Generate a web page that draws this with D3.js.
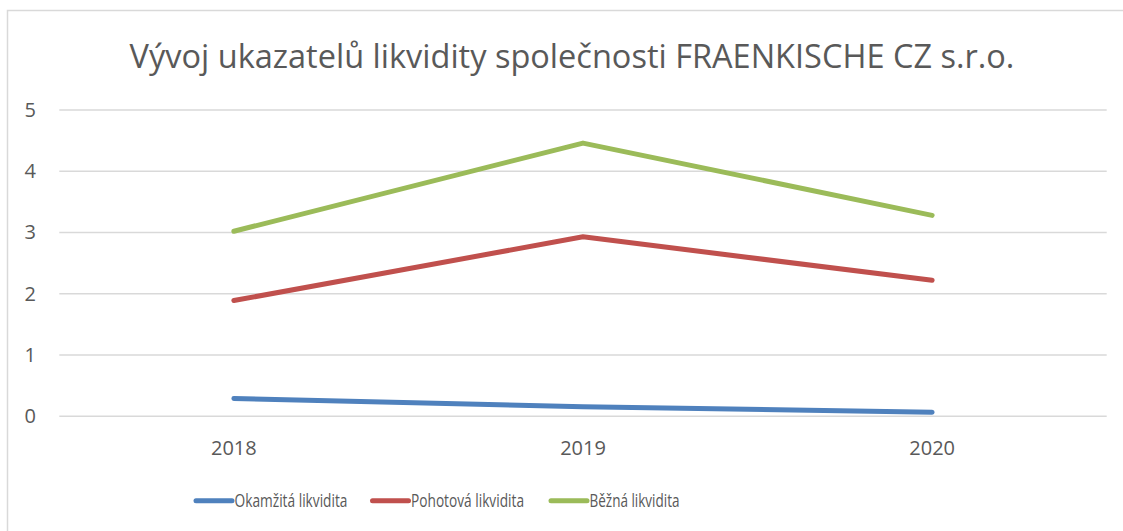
<!DOCTYPE html>
<html>
<head>
<meta charset="utf-8">
<script src="https://cdn.jsdelivr.net/npm/d3@7"></script>
<style>
  html, body { margin: 0; padding: 0; background: #fff; }
  svg { display: block; }
  text { font-family: "Open Sans", "Liberation Sans", sans-serif; fill: #595959; }
</style>
</head>
<body>
<svg id="chart" width="1123" height="531"></svg>
<script>
const title = "Vývoj ukazatelů likvidity společnosti FRAENKISCHE CZ s.r.o.";
const categories = ["2018", "2019", "2020"];
const seriesNames = ["Okamžitá likvidita", "Pohotová likvidita", "Běžná likvidita"];
const okamzita = [0.29, 0.157, 0.065];
const pohotova = [1.89, 2.93, 2.22];
const bezna = [3.02, 4.46, 3.28];
const yTicks = [0, 1, 2, 3, 4, 5];
const colors = ["#4F81BD", "#C0504D", "#9BBB59"];

const series = [okamzita, pohotova, bezna];

const svg = d3.select("#chart");
const plot = { left: 59.3, right: 1106.7, top: 110, bottom: 416.3 };

// outer chart border
svg.append("rect")
  .attr("x", 7.5).attr("y", 10.5)
  .attr("width", 1140).attr("height", 560)
  .attr("fill", "#fff").attr("stroke", "#d9d9d9").attr("stroke-width", 1.5);

const x = d3.scaleBand().domain(categories).range([plot.left, plot.right]).padding(0);
const y = d3.scaleLinear().domain([0, 5]).range([plot.bottom, plot.top]);

// gridlines
svg.append("g")
  .selectAll("line")
  .data(yTicks)
  .join("line")
  .attr("x1", plot.left).attr("x2", plot.right)
  .attr("y1", d => y(d)).attr("y2", d => y(d))
  .attr("stroke", "#d9d9d9").attr("stroke-width", 1.5);

// y axis labels
const yAxis = d3.axisLeft(y).tickValues(yTicks).tickSize(0).tickPadding(0).tickFormat(d3.format("d"));
const gy = svg.append("g").attr("transform", "translate(36,0)").call(yAxis);
gy.select(".domain").remove();
gy.selectAll("text").attr("font-size", 20).style("font-family", "'Open Sans', sans-serif").attr("fill", "#595959");

// x axis labels
const xAxis = d3.axisBottom(x).tickSize(0).tickPadding(0);
const gx = svg.append("g").attr("transform", `translate(0,${plot.bottom + 24})`).call(xAxis);
gx.select(".domain").remove();
gx.selectAll("text").attr("font-size", 20).style("font-family", "'Open Sans', sans-serif").attr("fill", "#595959");

// lines
const line = d3.line()
  .x((d, i) => x(categories[i]) + x.bandwidth() / 2)
  .y(d => y(d));

svg.append("g")
  .selectAll("path")
  .data(series)
  .join("path")
  .attr("d", d => line(d))
  .attr("fill", "none")
  .attr("stroke", (d, i) => colors[i])
  .attr("stroke-width", 5)
  .attr("stroke-linecap", "round")
  .attr("stroke-linejoin", "round");

// title
const t = svg.append("text")
  .attr("x", 572).attr("y", 68)
  .attr("text-anchor", "middle")
  .attr("font-size", 30)
  .attr("fill", "#595959")
  .text(title);
const tw = t.node().getComputedTextLength();
t.attr("font-size", 30 * 885 / tw);

// legend
const legendX = [196, 372.5, 551];
const legendW = [113, 113, 90];
const legendY = 500.7;
const lg = svg.append("g");
seriesNames.forEach((name, i) => {
  lg.append("line")
    .attr("x1", legendX[i]).attr("x2", legendX[i] + 36)
    .attr("y1", legendY).attr("y2", legendY)
    .attr("stroke", colors[i]).attr("stroke-width", 5)
    .attr("stroke-linecap", "round");
  lg.append("text")
    .attr("x", legendX[i] + 38.5).attr("y", legendY + 6.5)
    .attr("font-size", 19)
    .attr("fill", "#595959")
    .attr("textLength", legendW[i])
    .attr("lengthAdjust", "spacingAndGlyphs")
    .text(name);
});
</script>
</body>
</html>
